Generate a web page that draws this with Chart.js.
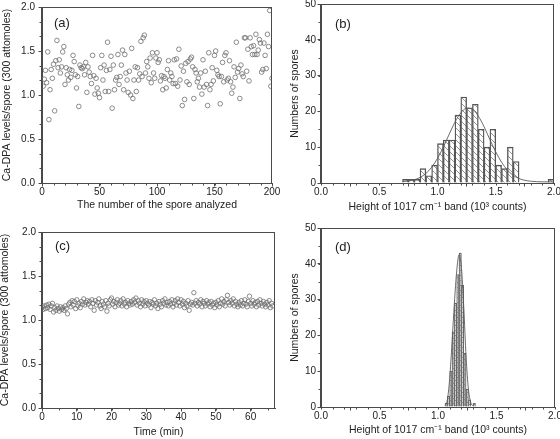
<!DOCTYPE html>
<html>
<head>
<meta charset="utf-8">
<script src="https://cdn.jsdelivr.net/npm/chart.js@4.4.1/dist/chart.umd.min.js"></script>
<style>
  html, body { margin: 0; padding: 0; background: #fff; }
  #wrap { position: relative; width: 560px; height: 439px; }
  canvas { position: absolute; }
</style>
</head>
<body>
<div id="wrap">
  <canvas id="chartA" width="280" height="220" style="left:0;top:0"></canvas>
  <canvas id="chartB" width="280" height="220" style="left:280px;top:0"></canvas>
  <canvas id="chartC" width="280" height="219" style="left:0;top:220px"></canvas>
  <canvas id="chartD" width="280" height="219" style="left:280px;top:220px"></canvas>
</div>
<script>
/* ---- data ---- */

// (a) Ca-DPA level of each analyzed spore, spore #1..200
const A_LEVELS = [
  1.10,1.18,1.28,1.14,1.49,0.72,1.06,1.29,1.19,1.35,
  0.82,1.39,1.62,1.31,1.40,1.25,1.32,1.49,1.55,1.12,
  1.31,1.23,1.17,1.29,1.20,1.28,1.45,1.38,1.23,1.08,
  1.21,0.87,1.34,1.31,1.30,1.32,1.23,1.37,1.03,1.32,
  1.26,1.21,1.13,1.45,1.22,1.01,1.19,1.08,1.02,0.97,
  1.31,1.45,1.17,1.34,1.04,1.28,1.60,1.04,1.29,1.44,
  0.85,1.34,1.06,1.17,1.20,1.46,1.12,1.21,1.34,1.51,
  1.06,1.46,1.25,1.17,1.03,1.27,1.00,1.53,0.96,1.17,
  1.32,1.04,1.31,1.17,1.24,1.61,1.21,1.65,1.68,1.25,
  1.38,1.32,1.19,1.42,1.14,1.48,1.25,1.19,1.42,1.48,
  1.37,1.40,1.16,1.22,1.06,1.21,1.19,1.08,1.29,1.39,
  1.17,1.25,1.21,1.13,1.40,1.13,1.41,1.10,1.52,1.17,
  1.33,0.88,1.27,0.95,1.36,1.15,1.38,1.12,1.41,1.43,
  1.32,0.96,1.29,1.25,1.15,1.19,1.09,1.25,1.01,1.40,
  1.09,1.27,1.12,0.88,1.48,1.06,1.12,1.31,1.16,1.45,
  1.50,1.28,1.23,1.21,0.90,1.21,1.37,1.15,1.45,1.48,
  1.17,1.19,1.39,1.15,1.02,1.09,1.32,1.20,1.60,1.26,
  1.30,0.96,1.34,1.24,1.21,1.65,1.65,1.27,1.52,1.16,
  1.65,1.55,1.46,1.56,1.46,1.69,1.46,1.51,1.63,1.59,
  1.26,1.29,1.59,1.45,1.30,1.69,1.55,1.96,1.10,1.19
];

// (b) histogram of 1017 cm-1 band height, bin centres and counts
const B_BIN_CENTERS = [0.725,0.775,0.825,0.875,0.925,0.975,1.025,1.075,1.125,1.175,
                       1.225,1.275,1.325,1.375,1.425,1.475,1.525,1.575,1.625,1.675,1.975];
const B_COUNTS = [1,1,1,4,2,5,11,12,12,19,24,21,22,15,10,15,5,4,10,6,1];
// (b) fitted curve
const B_FIT_X = [0.70,0.75,0.80,0.85,0.90,0.95,1.00,1.05,1.10,1.15,1.20,1.25,1.30,1.35,
                 1.40,1.45,1.50,1.55,1.60,1.65,1.70,1.75,1.80,1.85,1.90,1.95,2.00];
const B_FIT_Y = [0.41,0.57,0.91,1.54,2.65,4.40,6.88,10.0,13.6,17.0,19.6,20.9,20.6,18.7,
                 15.7,12.1,8.7,5.8,3.6,2.14,1.24,0.75,0.49,0.38,0.33,0.31,0.30];

// (c) Ca-DPA level of one spore, sampled every 20 s
const C_STEP_MIN = 1 / 3;
const C_LEVELS = [
  1.15,1.12,1.16,1.13,1.17,1.14,1.18,1.12,1.16,1.19,
  1.09,1.14,1.11,1.16,1.13,1.10,1.15,1.12,1.14,1.11,
  1.16,1.13,1.07,1.18,1.20,1.15,1.22,1.17,1.21,1.13,
  1.23,1.16,1.19,1.14,1.21,1.18,1.24,1.17,1.20,1.22,
  1.18,1.21,1.15,1.23,1.19,1.11,1.22,1.17,1.20,1.24,
  1.16,1.13,1.21,1.18,1.15,1.22,1.10,1.19,1.16,1.23,
  1.25,1.18,1.21,1.15,1.20,1.23,1.17,1.19,1.22,1.16,
  1.24,1.18,1.20,1.15,1.22,1.19,1.17,1.21,1.18,1.23,
  1.20,1.25,1.17,1.22,1.19,1.15,1.23,1.18,1.21,1.16,
  1.22,1.19,1.17,1.21,1.14,1.20,1.18,1.23,1.16,1.19,
  1.13,1.21,1.18,1.15,1.22,1.19,1.24,1.17,1.20,1.16,
  1.21,1.18,1.23,1.15,1.19,1.22,1.17,1.24,1.20,1.16,
  1.23,1.18,1.21,1.14,1.19,1.16,1.22,1.11,1.18,1.20,
  1.17,1.31,1.19,1.22,1.16,1.20,1.18,1.23,1.15,1.21,
  1.19,1.16,1.22,1.18,1.20,1.15,1.21,1.17,1.19,1.14,
  1.20,1.17,1.22,1.15,1.19,1.24,1.18,1.21,1.16,1.23,
  1.28,1.20,1.17,1.22,1.19,1.24,1.16,1.21,1.18,1.15,
  1.20,1.17,1.22,1.16,1.19,1.23,1.18,1.15,1.21,1.27,
  1.19,1.16,1.22,1.18,1.20,1.15,1.21,1.17,1.23,1.19,
  1.16,1.21,1.18,1.15,1.20,1.17,1.22,1.14,1.19,1.16
];

// (d) histogram for the single spore
const D_BIN_CENTERS = [1.07,1.09,1.11,1.13,1.15,1.17,1.19,1.21,1.23,1.25,1.27,1.29,1.31];
const D_COUNTS = [1,3,10,21,29,37,43,34,15,5,2,0,1];
const D_FIT_X = [1.06,1.08,1.10,1.12,1.14,1.16,1.18,1.20,1.22,1.24,1.26,1.28,1.30];
const D_FIT_Y = [0.5,2,8,18,29,38,42.5,39,28,14,5,1.2,0.3];

// tick labels
const TICKS_LEVEL = [0, 0.5, 1.0, 1.5, 2.0];
const TICKS_SPORE = [0, 50, 100, 150, 200];
const TICKS_TIME = [0, 10, 20, 30, 40, 50, 60];
const TICKS_HEIGHT = [0, 0.5, 1.0, 1.5, 2.0];
const TICKS_COUNT = [0, 10, 20, 30, 40, 50];

/* ---- look ---- */
const AXIS = "#4a4a4a";
const TEXT = "#222";
const MARK = "#6e6e6e";
const FONT = "'Liberation Sans', Arial, sans-serif";

Chart.defaults.font.family = FONT;
Chart.defaults.color = TEXT;
Chart.defaults.animation = false;

const TITLE_Y = "Ca-DPA levels/spore (300 attomoles)";
const TITLE_H = "Height of 1017 cm\u207B\u00B9 band (10\u00B3 counts)";

function hatch(n, color) {
  const c = document.createElement("canvas");
  c.width = n; c.height = n;
  const g = c.getContext("2d");
  g.strokeStyle = color;
  g.lineWidth = 0.7;
  g.beginPath();
  g.moveTo(0, 0); g.lineTo(n, n);
  g.moveTo(-1, n - 1); g.lineTo(1, n + 1);
  g.moveTo(n - 1, -1); g.lineTo(n + 1, 1);
  g.stroke();
  return g.createPattern(c, "repeat");
}

// box round the plot, minor ticks and the (a)..(d) label
const framePlugin = {
  id: "frame",
  afterDraw(chart, args, o) {
    const { ctx, chartArea: a } = chart;
    const xs = chart.scales.x, ys = chart.scales.y;
    ctx.save();
    ctx.strokeStyle = AXIS;
    ctx.lineWidth = 1;
    const L = Math.round(a.left) - 0.5, T = Math.round(a.top) + 0.5;
    const R = Math.round(a.right) - 0.5, B = Math.round(a.bottom) + 0.5;
    ctx.strokeRect(L, T, R - L, B - T);
    ctx.beginPath();
    for (let v = xs.min; v <= xs.max + 1e-9; v += o.minorX) {
      const p = Math.round(xs.getPixelForValue(v)) + 0.5;
      ctx.moveTo(p, B); ctx.lineTo(p, B + 2);
    }
    for (let v = ys.min; v <= ys.max + 1e-9; v += o.minorY) {
      const p = Math.round(ys.getPixelForValue(v)) + 0.5;
      ctx.moveTo(L, p); ctx.lineTo(L - 2, p);
    }
    ctx.stroke();
    ctx.fillStyle = TEXT;
    ctx.font = "13px " + FONT;
    ctx.textBaseline = "middle";
    ctx.fillText(o.label, a.left + o.lx, a.top + o.ly);
    ctx.restore();
  }
};

function axis(o) {
  return {
    type: "linear",
    min: o.min,
    max: o.max,
    offset: false,
    grid: { display: true, drawOnChartArea: false, drawTicks: true, tickLength: 3.5, color: AXIS },
    border: { display: true, color: AXIS, width: 1 },
    ticks: { padding: o.pad, font: { size: 10 }, color: TEXT, maxRotation: 0, callback: o.fmt },
    title: { display: true, text: o.title, color: TEXT, font: { size: 10.5, lineHeight: 1 }, padding: o.titlePad },
    afterBuildTicks: (s) => { s.ticks = o.ticks.map((v) => ({ value: v })); },
    afterFit: (s) => {
      if (s.isHorizontal()) s.height = o.size; else s.width = o.size;
      s.paddingLeft = s.paddingRight = s.paddingTop = s.paddingBottom = 0;
    }
  };
}

const fix1 = (v) => Number(v).toFixed(1);
const int0 = (v) => String(Math.round(v));

function baseOptions(pad, frame, x, y) {
  return {
    responsive: false,
    layout: { padding: pad },
    plugins: { legend: { display: false }, tooltip: { enabled: false }, frame },
    scales: { x, y }
  };
}

/* ---- (a) ---- */
new Chart(document.getElementById("chartA"), {
  type: "scatter",
  data: {
    datasets: [{
      data: A_LEVELS.map((v, i) => ({ x: i + 1, y: v })),
      pointStyle: "circle", pointRadius: 2.3, borderWidth: 0.8,
      borderColor: MARK, backgroundColor: "rgba(0,0,0,0)"
    }]
  },
  options: baseOptions(
    { left: 0, top: 7, right: 8, bottom: 0 },
    { label: "(a)", lx: 12, ly: 16, minorX: 10, minorY: 0.5 / 3 },
    axis({ min: 0, max: 200, ticks: TICKS_SPORE, fmt: int0, pad: 0, size: 37,
           title: "The number of the spore analyzed", titlePad: { top: 0, bottom: 9.7 } }),
    axis({ min: 0, max: 2, ticks: TICKS_LEVEL, fmt: fix1, pad: 3.5, size: 42,
           title: TITLE_Y, titlePad: { top: 2.2, bottom: 0 } })
  ),
  plugins: [framePlugin]
});

/* ---- (b) ---- */
new Chart(document.getElementById("chartB"), {
  type: "bar",
  data: {
    datasets: [
      {
        type: "line", order: 0,
        data: B_FIT_X.map((x, i) => ({ x, y: B_FIT_Y[i] })),
        borderColor: "#5a5a5a", borderWidth: 0.9, pointRadius: 0,
        cubicInterpolationMode: "monotone", fill: false
      },
      {
        type: "bar", order: 1,
        data: B_BIN_CENTERS.map((x, i) => ({ x, y: B_COUNTS[i] })),
        backgroundColor: hatch(6, "#666"), borderColor: "#555", borderWidth: 0.7,
        barPercentage: 1, categoryPercentage: 1, grouped: false
      }
    ]
  },
  options: baseOptions(
    { left: 0, top: 4, right: 6, bottom: 0 },
    { label: "(b)", lx: 14, ly: 20, minorX: 0.1, minorY: 5 },
    axis({ min: 0, max: 2, ticks: TICKS_HEIGHT, fmt: fix1, pad: 0, size: 37,
           title: TITLE_H, titlePad: { top: 0, bottom: 8 } }),
    axis({ min: 0, max: 50, ticks: TICKS_COUNT, fmt: int0, pad: 1.5, size: 41,
           title: "Numbers of spores", titlePad: { top: 9.7, bottom: 0 } })
  ),
  plugins: [framePlugin]
});

/* ---- (c) ---- */
new Chart(document.getElementById("chartC"), {
  type: "scatter",
  data: {
    datasets: [{
      data: C_LEVELS.map((v, i) => ({ x: i * C_STEP_MIN, y: v })),
      pointStyle: "circle", pointRadius: 2.2, borderWidth: 0.8,
      borderColor: MARK, backgroundColor: "rgba(0,0,0,0)"
    }]
  },
  options: baseOptions(
    { left: 0, top: 12, right: 5, bottom: 0 },
    { label: "(c)", lx: 13, ly: 14.7, minorX: 5, minorY: 0.5 / 3 },
    axis({ min: 0, max: 67, ticks: TICKS_TIME, fmt: int0, pad: 0, size: 31,
           title: "Time (min)", titlePad: { top: 0, bottom: 1.7 } }),
    axis({ min: 0, max: 2, ticks: TICKS_LEVEL, fmt: fix1, pad: 2.5, size: 42,
           title: TITLE_Y, titlePad: { top: 0, bottom: 0 } })
  ),
  plugins: [framePlugin]
});

/* ---- (d) ---- */
new Chart(document.getElementById("chartD"), {
  type: "bar",
  data: {
    datasets: [
      {
        type: "line", order: 0,
        data: D_FIT_X.map((x, i) => ({ x, y: D_FIT_Y[i] })),
        borderColor: "#5a5a5a", borderWidth: 0.9, pointRadius: 0,
        cubicInterpolationMode: "monotone", fill: false
      },
      {
        type: "bar", order: 1,
        data: D_BIN_CENTERS.map((x, i) => ({ x, y: D_COUNTS[i] })),
        backgroundColor: hatch(5, "#777"), borderColor: "#666", borderWidth: 0.5,
        barPercentage: 1, categoryPercentage: 1, grouped: false
      }
    ]
  },
  options: baseOptions(
    { left: 0, top: 8, right: 5, bottom: 0 },
    { label: "(d)", lx: 14, ly: 19.3, minorX: 0.1, minorY: 5 },
    axis({ min: 0, max: 2, ticks: TICKS_HEIGHT, fmt: fix1, pad: 0, size: 32,
           title: TITLE_H, titlePad: { top: 0, bottom: 3.7 } }),
    axis({ min: 0, max: 50, ticks: TICKS_COUNT, fmt: int0, pad: 1.5, size: 41,
           title: "Numbers of spores", titlePad: { top: 9.7, bottom: 0 } })
  ),
  plugins: [framePlugin]
});
</script>
</body>
</html>
